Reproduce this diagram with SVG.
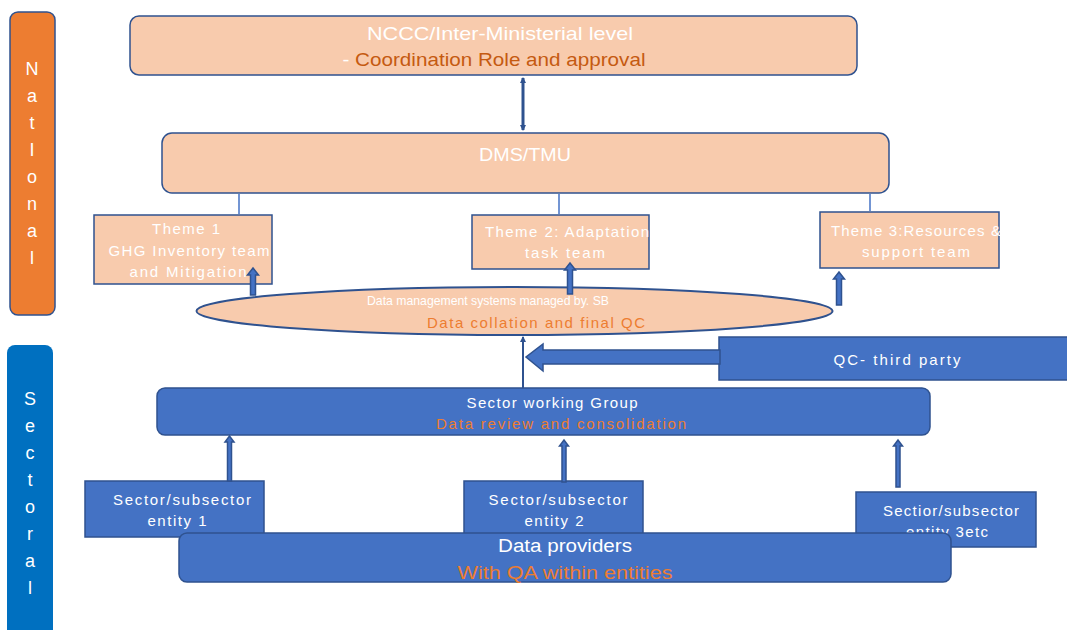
<svg xmlns="http://www.w3.org/2000/svg" width="1067" height="630" viewBox="0 0 1067 630">
<defs>
<style>
.peach{fill:#F8CBAD;stroke:#2F528F;stroke-width:1.5}
.blue{fill:#4472C4;stroke:#2F528F;stroke-width:1.5}
.t{font-family:"Liberation Sans",Arial,sans-serif;fill:#FFFFFF;text-anchor:middle}
.o{fill:#ED7D31}
.od{fill:#C55A11}
.v{font-family:"Liberation Sans",Arial,sans-serif;fill:#FFFFFF;text-anchor:middle;font-size:18px}
.thin{stroke:#4472C4;stroke-width:1.5;fill:none}
.conn{stroke:#2F528F;fill:none}
.blk{fill:#4472C4;stroke:#2F528F;stroke-width:1.5}
</style>
<marker id="ah" viewBox="0 0 6 6" refX="5" refY="3" markerWidth="6" markerHeight="6" markerUnits="userSpaceOnUse" orient="auto-start-reverse">
<path d="M0,0 L6,3 L0,6 z" fill="#2F528F"/>
</marker>
</defs>
<rect width="1067" height="630" fill="#FFFFFF"/>

<g id="national">
<rect x="10" y="12" width="45" height="303" rx="8" fill="#ED7D31" stroke="#2F528F" stroke-width="1.5"/>
<text class="v" x="32" y="75">N</text>
<text class="v" x="32" y="102">a</text>
<text class="v" x="32" y="129">t</text>
<text class="v" x="32" y="156">I</text>
<text class="v" x="32" y="183">o</text>
<text class="v" x="32" y="210">n</text>
<text class="v" x="32" y="237">a</text>
<text class="v" x="32" y="264">l</text>
</g>

<g id="sectoral">
<rect x="7" y="345" width="46" height="295" rx="8" fill="#0070C0"/>
<text class="v" x="30" y="405">S</text>
<text class="v" x="30" y="432">e</text>
<text class="v" x="30" y="459">c</text>
<text class="v" x="30" y="486">t</text>
<text class="v" x="30" y="513">o</text>
<text class="v" x="30" y="540">r</text>
<text class="v" x="30" y="567">a</text>
<text class="v" x="30" y="594">l</text>
</g>

<g id="nccc">
<rect class="peach" x="130" y="16" width="727" height="59" rx="9"/>
<text class="t" x="500" y="40" font-size="19" textLength="266" lengthAdjust="spacingAndGlyphs">NCCC/Inter-Ministerial level</text>
<text class="t" x="494" y="66" font-size="19" textLength="303" lengthAdjust="spacingAndGlyphs">- <tspan class="od">Coordination Role and approval</tspan></text>
</g>

<g id="dms">
<rect class="peach" x="162" y="133" width="727" height="60" rx="10"/>
<text class="t" x="525" y="161" font-size="19" textLength="92" lengthAdjust="spacingAndGlyphs">DMS/TMU</text>
</g>

<g id="theme1">
<rect class="peach" x="94" y="215" width="178" height="69"/>
<text class="t" x="186" y="234" font-size="15" textLength="68" lengthAdjust="spacing">Theme 1</text>
<text class="t" x="189" y="256" font-size="15" textLength="161" lengthAdjust="spacing">GHG Inventory team</text>
<text class="t" x="188" y="277" font-size="15" textLength="117" lengthAdjust="spacing">and Mitigation</text>
</g>

<g id="theme2">
<rect class="peach" x="472" y="215" width="177" height="54"/>
<text class="t" x="567" y="237" font-size="15" textLength="164" lengthAdjust="spacing">Theme 2: Adaptation</text>
<text class="t" x="565" y="258" font-size="15" textLength="80" lengthAdjust="spacing">task team</text>
</g>

<g id="theme3">
<rect class="peach" x="820" y="212" width="179" height="56"/>
<text class="t" x="916" y="236" font-size="15" textLength="170" lengthAdjust="spacing">Theme 3:Resources &amp;</text>
<text class="t" x="916" y="257" font-size="15" textLength="108" lengthAdjust="spacing">support team</text>
</g>

<g id="dmsystems">
<ellipse cx="514.5" cy="311" rx="318" ry="24" fill="#F8CBAD" stroke="#2F528F" stroke-width="2"/>
<text class="t" x="488" y="305" font-size="13" textLength="242" lengthAdjust="spacingAndGlyphs">Data management systems managed by. SB</text>
<text class="t o" x="536" y="328" font-size="15" textLength="218" lengthAdjust="spacing">Data collation and final QC</text>
</g>

<g id="qc">
<rect class="blue" x="719" y="337" width="355" height="43"/>
<text class="t" x="897" y="365" font-size="15" textLength="127" lengthAdjust="spacing">QC- third party</text>
</g>

<g id="swg">
<rect class="blue" x="157" y="388" width="773" height="47" rx="8"/>
<text class="t" x="552" y="408" font-size="15" textLength="171" lengthAdjust="spacing">Sector working Group</text>
<text class="t o" x="561" y="429" font-size="15" textLength="250" lengthAdjust="spacing">Data review and consolidation</text>
</g>

<g id="entity1">
<rect class="blue" x="85" y="481" width="179" height="56"/>
<text class="t" x="182" y="505" font-size="15" textLength="138" lengthAdjust="spacing">Sector/subsector</text>
<text class="t" x="177" y="526" font-size="15" textLength="59" lengthAdjust="spacing">entity 1</text>
</g>

<g id="entity2">
<rect class="blue" x="464" y="481" width="179" height="56"/>
<text class="t" x="558" y="505" font-size="15" textLength="139" lengthAdjust="spacing">Sector/subsector</text>
<text class="t" x="554" y="526" font-size="15" textLength="59" lengthAdjust="spacing">entity 2</text>
</g>

<g id="entity3">
<rect class="blue" x="856" y="492" width="180" height="55"/>
<text class="t" x="951" y="516" font-size="15" textLength="136" lengthAdjust="spacing">Sectior/subsector</text>
<text class="t" x="947" y="537" font-size="15" textLength="82" lengthAdjust="spacing">entity 3etc</text>
</g>

<g id="providers">
<rect class="blue" x="179" y="533" width="772" height="49" rx="8"/>
<text class="t" x="565" y="552" font-size="18" textLength="134" lengthAdjust="spacingAndGlyphs">Data providers</text>
<text class="t o" x="565" y="579" font-size="18" textLength="215" lengthAdjust="spacingAndGlyphs">With QA within entities</text>
</g>

<g id="connectors">
<line class="conn" x1="523" y1="78" x2="523" y2="130" stroke-width="3" marker-start="url(#ah)" marker-end="url(#ah)"/>
<line class="thin" x1="239" y1="194" x2="239" y2="214"/>
<line class="thin" x1="559" y1="194" x2="559" y2="214"/>
<line class="thin" x1="870" y1="194" x2="870" y2="211"/>
<polygon class="blk" points="250.5,295 255.5,295 255.5,275 258.5,275 253,268 247.5,275 250.5,275"/>
<polygon class="blk" points="567.5,294 572.5,294 572.5,270 575.5,270 570,263 564.5,270 567.5,270"/>
<polygon class="blk" points="836.5,305 841.5,305 841.5,279 844.5,279 839,272 833.5,279 836.5,279"/>
<line class="conn" x1="523" y1="388" x2="523" y2="337" stroke-width="2" marker-end="url(#ah)"/>
<polygon class="blk" points="720,350 543,350 543,344 526,357 543,371 543,364 720,364"/>
<polygon class="blk" points="227.5,481 231.5,481 231.5,442 234,442 229.5,436 225,442 227.5,442"/>
<polygon class="blk" points="562,482 566,482 566,446 568.5,446 564,440 559.5,446 562,446"/>
<polygon class="blk" points="896,487 900,487 900,446 902.5,446 898,440 893.5,446 896,446"/>
</g>
</svg>
